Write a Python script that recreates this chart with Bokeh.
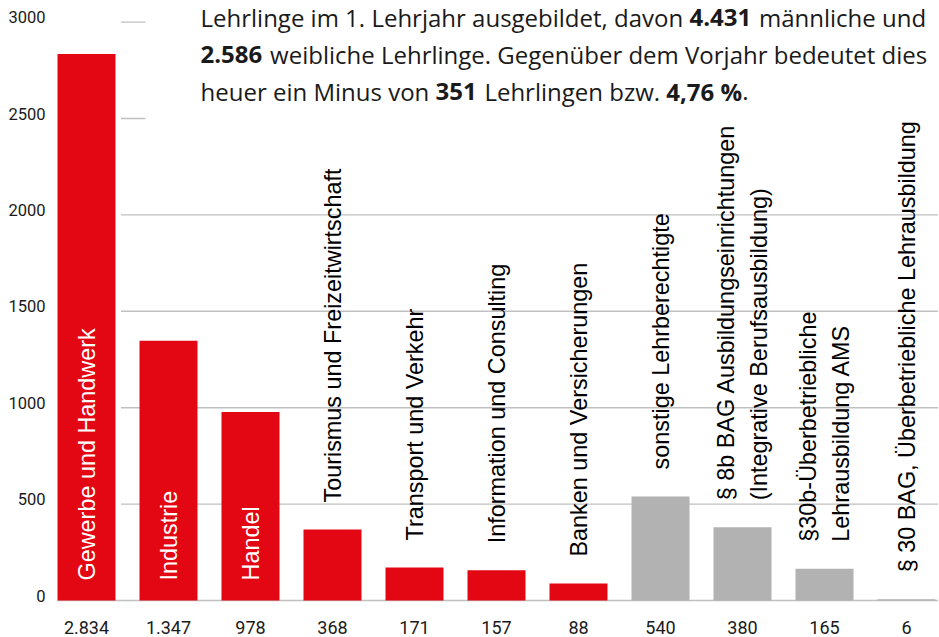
import math
import struct
import subprocess

from bokeh.plotting import figure
from bokeh.models import ColumnDataSource, Range1d
from bokeh.core.properties import value
from bokeh.embed import file_html
from bokeh.resources import INLINE

# ---------------- data ----------------
categories = [
    "Gewerbe und Handwerk",
    "Industrie",
    "Handel",
    "Tourismus und Freizeitwirtschaft",
    "Transport und Verkehr",
    "Information und Consulting",
    "Banken und Versicherungen",
    "sonstige Lehrberechtigte",
    "§ 8b BAG Ausbildungseinrichtungen\n(Integrative Berufsausbildung)",
    "§30b-Überbetriebliche\nLehrausbildung AMS",
    "§ 30 BAG, Überbetriebliche Lehrausbildung",
]
values = [2834, 1347, 978, 368, 171, 157, 88, 540, 380, 165, 6]
value_labels = ["2.834", "1.347", "978", "368", "171", "157", "88", "540", "380", "165", "6"]
groups = ["Sparte"] * 7 + ["sonstige"] * 4

y_ticks = [0, 500, 1000, 1500, 2000, 2500, 3000]
y_tick_labels = ["0", "500", "1000", "1500", "2000", "2500", "3000"]

intro_lines = [
    [("Lehrlinge im 1. Lehrjahr ausgebildet, davon ", False), ("4.431", True), (" männliche und", False)],
    [("2.586", True), (" weibliche Lehrlinge. Gegenüber dem Vorjahr bedeutet dies", False)],
    [("heuer ein Minus von ", False), ("351", True), (" Lehrlingen bzw. ", False), ("4,76 %", True), (".", False)],
]

# ---------------- styling / layout ----------------
W, H = 938, 636
PX_X = 82.0           # px per category step
X0_PX = 86.0          # px position of first category centre
PX_Y = 0.1928         # px per unit
Y0_PX = 600.0         # px from top of value 0
BAR_W = 58.0 / PX_X

RED = "#e30613"
GREY = "#b2b2b2"
GRID = "#c0c0c0"
INK = "#1a1a1a"
NUM_FONT = "Roboto"
PARA_FONT = "Open Sans"
LAB_FONT = "Liberation Sans"

x_start = -X0_PX / PX_X
x_end = (W - X0_PX) / PX_X
y_start = -(H - Y0_PX) / PX_Y
y_end = Y0_PX / PX_Y


# ---------------- font metrics for the mixed bold / regular paragraph ----------------
def _font_path(pattern):
    try:
        out = subprocess.run(["fc-match", "-f", "%{file}", pattern],
                             capture_output=True, text=True, timeout=10).stdout.strip()
        return out or None
    except Exception:
        return None


def _metrics(path):
    data = open(path, "rb").read()
    base = 0
    if data[:4] == b"ttcf":
        base = struct.unpack(">I", data[12:16])[0]
    num = struct.unpack(">H", data[base + 4:base + 6])[0]
    tabs = {}
    for i in range(num):
        rec = base + 12 + 16 * i
        tag, _, off, _ln = struct.unpack(">4sIII", data[rec:rec + 16])
        tabs[tag.decode("latin-1")] = off
    upem = struct.unpack(">H", data[tabs["head"] + 18:tabs["head"] + 20])[0]
    nhm = struct.unpack(">H", data[tabs["hhea"] + 34:tabs["hhea"] + 36])[0]
    hm = tabs["hmtx"]
    adv = [struct.unpack(">H", data[hm + 4 * i:hm + 4 * i + 2])[0] for i in range(nhm)]
    cm = tabs["cmap"]
    n = struct.unpack(">H", data[cm + 2:cm + 4])[0]
    cmap = {}
    for i in range(n):
        pid, eid, so = struct.unpack(">HHI", data[cm + 4 + 8 * i:cm + 12 + 8 * i])
        st = cm + so
        fmt = struct.unpack(">H", data[st:st + 2])[0]
        if fmt == 4:
            segx2 = struct.unpack(">H", data[st + 6:st + 8])[0]
            seg = segx2 // 2
            ends = struct.unpack(">%dH" % seg, data[st + 14:st + 14 + segx2])
            starts = struct.unpack(">%dH" % seg, data[st + 16 + segx2:st + 16 + 2 * segx2])
            deltas = struct.unpack(">%dh" % seg, data[st + 16 + 2 * segx2:st + 16 + 3 * segx2])
            rpos = st + 16 + 3 * segx2
            roffs = struct.unpack(">%dH" % seg, data[rpos:rpos + segx2])
            for k in range(seg):
                for c in range(starts[k], min(ends[k], 0x2FF) + 1):
                    if roffs[k] == 0:
                        g = (c + deltas[k]) & 0xFFFF
                    else:
                        addr = rpos + 2 * k + roffs[k] + 2 * (c - starts[k])
                        g = struct.unpack(">H", data[addr:addr + 2])[0]
                        if g:
                            g = (g + deltas[k]) & 0xFFFF
                    cmap.setdefault(c, g)
        elif fmt == 12:
            ng = struct.unpack(">I", data[st + 12:st + 16])[0]
            for gi in range(ng):
                s, e, gid = struct.unpack(">III", data[st + 16 + 12 * gi:st + 28 + 12 * gi])
                for c in range(s, min(e, 0x2FF) + 1):
                    cmap.setdefault(c, gid + c - s)
        if cmap:
            break

    def width(text, size):
        tot = 0
        for ch in text:
            g = cmap.get(ord(ch), 0)
            tot += adv[g] if g < len(adv) else adv[-1]
        return tot * size / upem

    return width


def _make_measure(family):
    try:
        reg_w = _metrics(_font_path(family + ":style=Regular"))
        bold_w = _metrics(_font_path(family + ":style=Bold"))

        def measure(text, size, bold):
            # bold face is rendered a little wider than the default-instance advances
            return bold_w(text, size) * 1.035 if bold else reg_w(text, size)
        measure("abc", 10, False)
        return measure
    except Exception:
        def measure(text, size, bold):
            return len(text) * size * (0.58 if bold else 0.55)
        return measure


measure = _make_measure(PARA_FONT)

# ---------------- figure ----------------
p = figure(width=W, height=H, x_range=Range1d(x_start, x_end), y_range=Range1d(y_start, y_end),
           toolbar_location=None, output_backend="svg",
           x_axis_location=None, y_axis_location=None,
           min_border=0, min_border_left=0, min_border_right=0, min_border_top=0, min_border_bottom=0)
p.outline_line_color = None
p.grid.visible = False
p.background_fill_color = "white"
p.border_fill_color = "white"

# grid lines (behind bars)
grid_x0 = [-BAR_W / 2 if t == 0 else 0.42 for t in y_ticks]
grid_src = ColumnDataSource(dict(x0=grid_x0, x1=[x_end] * len(y_ticks), y=y_ticks))
p.segment(x0="x0", y0="y", x1="x1", y1="y", source=grid_src, line_color=GRID, line_width=1.4)

# white box behind the intro paragraph
p.quad(left=[0.72], right=[x_end], bottom=[2460], top=[y_end], fill_color="white", line_color=None)

# bars
xs = list(range(len(values)))
colors = [RED if g == "Sparte" else GREY for g in groups]
bar_src = ColumnDataSource(dict(x=xs, top=values, color=colors, cat=categories, lab=value_labels))
p.vbar(x="x", top="top", width=BAR_W, bottom=0, source=bar_src, fill_color="color", line_color=None)

# y tick labels
p.text(x=[-0.5] * len(y_ticks), y=y_ticks, text=y_tick_labels,
       text_font=value(NUM_FONT), text_font_size="16.5px", text_color=INK,
       text_align="right", text_baseline="middle", y_offset=-5)

# value labels under the bars
p.text(x=xs, y=[0] * len(xs), text=value_labels,
       text_font=value(NUM_FONT), text_font_size="18px", text_color=INK,
       text_align="center", text_baseline="middle", y_offset=26.5)

# category labels: inside the tall bars (white), above the short ones (black)
inside = [v > 900 for v in values]
in_idx = [i for i in xs if inside[i]]
out_idx = [i for i in xs if not inside[i]]
p.text(x=in_idx, y=[0] * len(in_idx), text=[categories[i] for i in in_idx],
       angle=math.pi / 2, text_font=value(LAB_FONT), text_font_size="23.4px", text_color="white",
       text_align="left", text_baseline="middle", y_offset=-20)
p.text(x=out_idx, y=[values[i] for i in out_idx], text=[categories[i] for i in out_idx],
       angle=math.pi / 2, text_font=value(LAB_FONT), text_font_size="23.4px", text_color="black",
       text_align="left", text_baseline="middle", y_offset=-27, text_line_height=1.25)

# intro paragraph with bold figures
PARA_SIZE = 24
para_x0_px = 200.0 - X0_PX
centers_px = [16.5, 53.8, 91.1]
for line, c_px in zip(intro_lines, centers_px):
    xpx = para_x0_px
    yv = (Y0_PX - c_px) / PX_Y
    for seg, bold in line:
        lead = len(seg) - len(seg.lstrip(" "))
        shown = seg.strip(" ")
        if shown:
            xdraw = xpx + measure(seg[:lead], PARA_SIZE, bold)
            p.text(x=[xdraw / PX_X], y=[yv], text=[shown],
                   text_font=value(PARA_FONT), text_font_size="%spx" % PARA_SIZE,
                   text_font_style="bold" if bold else "normal", text_color=INK,
                   text_align="left", text_baseline="middle")
        xpx += measure(seg, PARA_SIZE, bold)

open("out.html", "w").write(file_html(p, INLINE))
